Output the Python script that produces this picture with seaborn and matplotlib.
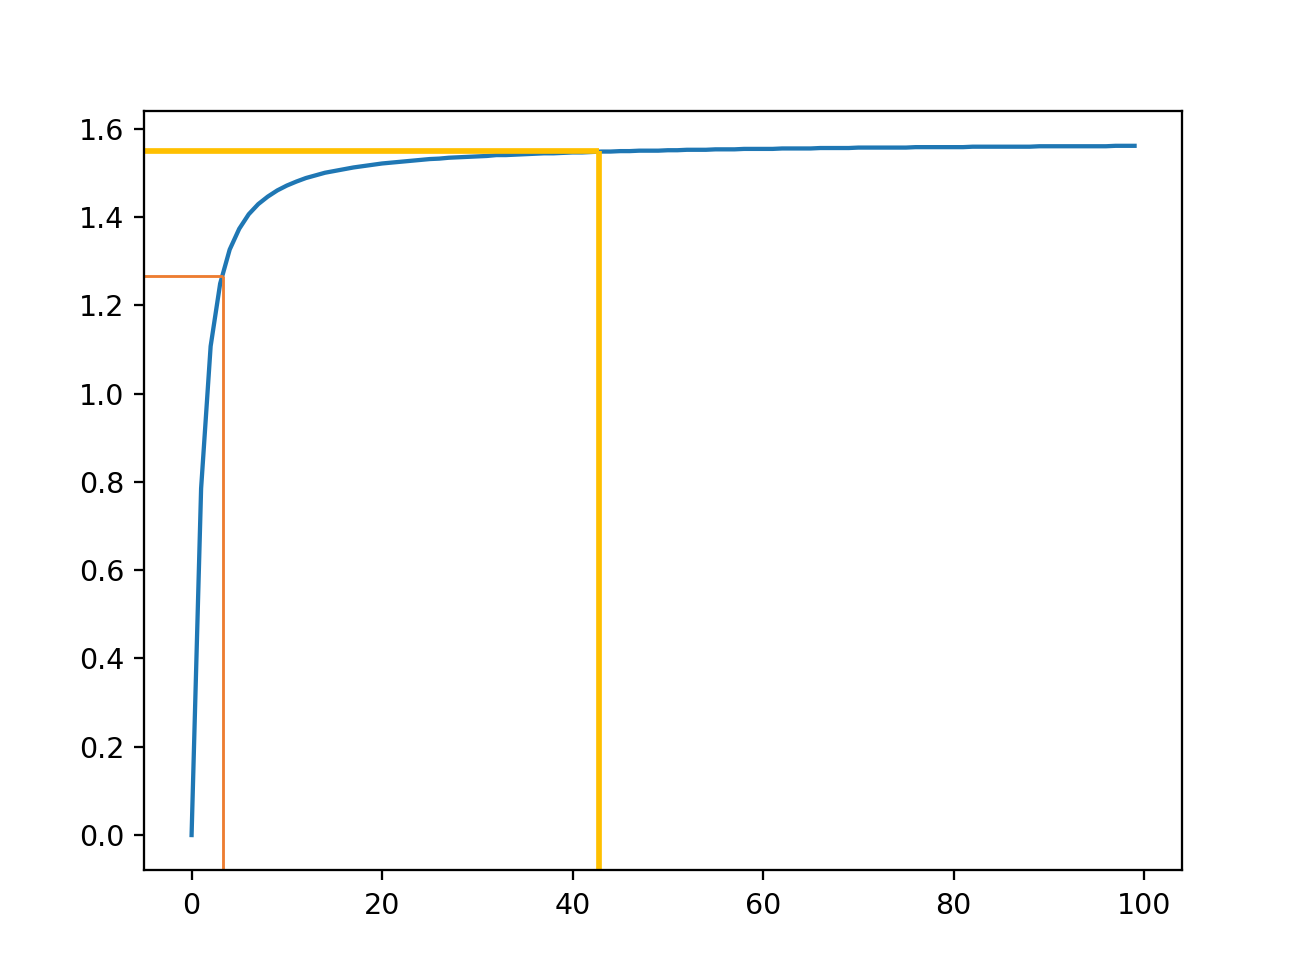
import numpy as np
import pandas as pd
import seaborn as sns
import matplotlib.pyplot as plt

# curve values, x = 0..99
steps = list(range(100))
values = [0.000, 0.785, 1.107, 1.249, 1.326, 1.373, 1.406, 1.429, 1.446, 1.460,
          1.471, 1.480, 1.488, 1.494, 1.500, 1.504, 1.508, 1.512, 1.515, 1.518,
          1.521, 1.523, 1.525, 1.527, 1.529, 1.531, 1.532, 1.534, 1.535, 1.536,
          1.537, 1.538, 1.540, 1.540, 1.541, 1.542, 1.543, 1.544, 1.544, 1.545,
          1.546, 1.546, 1.547, 1.548, 1.548, 1.549, 1.549, 1.550, 1.550, 1.550,
          1.551, 1.551, 1.552, 1.552, 1.552, 1.553, 1.553, 1.553, 1.554, 1.554,
          1.554, 1.554, 1.555, 1.555, 1.555, 1.555, 1.556, 1.556, 1.556, 1.556,
          1.557, 1.557, 1.557, 1.557, 1.557, 1.557, 1.558, 1.558, 1.558, 1.558,
          1.558, 1.558, 1.559, 1.559, 1.559, 1.559, 1.559, 1.559, 1.559, 1.560,
          1.560, 1.560, 1.560, 1.560, 1.560, 1.560, 1.560, 1.561, 1.561, 1.561]

# marker lines (x, y) for the two guides
orange_x, orange_y = 3.25, 1.267
gold_x, gold_y = 42.8, 1.550

df = pd.DataFrame({'x': steps, 'y': values})

fig, ax = plt.subplots(figsize=(6.405, 4.766), dpi=205)
fig.subplots_adjust(left=0.110, right=0.900, top=0.886, bottom=0.110)

sns.lineplot(data=df, x='x', y='y', ax=ax, color='#1f77b4', linewidth=1.5)
xlim = ax.get_xlim()
ylim = ax.get_ylim()

# orange guide
ax.hlines(orange_y, xlim[0], orange_x, color='#ED7D31', linewidth=1.0)
ax.vlines(orange_x, ylim[0], orange_y, color='#ED7D31', linewidth=1.0)

# gold guide
ax.hlines(gold_y, xlim[0], gold_x, color='#FFC000', linewidth=2.0)
ax.vlines(gold_x, ylim[0], gold_y, color='#FFC000', linewidth=2.0)

ax.set_xlim(xlim)
ax.set_ylim(ylim)
ax.set_xlabel('')
ax.set_ylabel('')
ax.tick_params(axis='x', pad=4.5)

plt.savefig('out.png', dpi=205)
